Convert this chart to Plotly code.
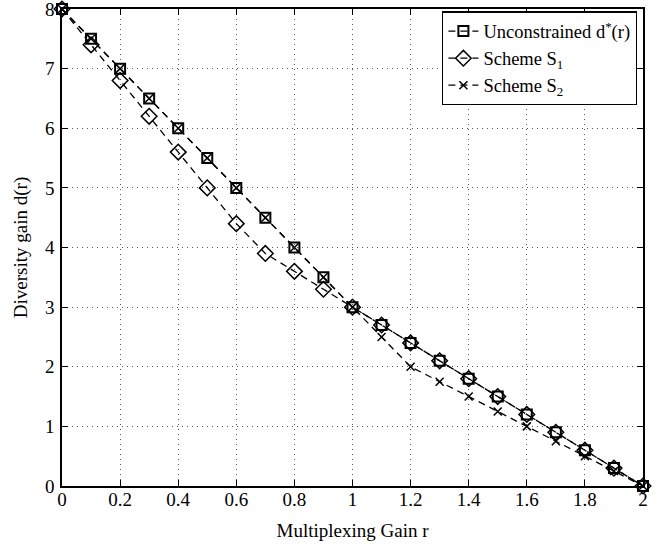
import plotly.graph_objects as go

r = [0, 0.1, 0.2, 0.3, 0.4, 0.5, 0.6, 0.7, 0.8, 0.9, 1.0,
     1.1, 1.2, 1.3, 1.4, 1.5, 1.6, 1.7, 1.8, 1.9, 2.0]
d_star = [8, 7.5, 7, 6.5, 6, 5.5, 5, 4.5, 4, 3.5, 3,
          2.7, 2.4, 2.1, 1.8, 1.5, 1.2, 0.9, 0.6, 0.3, 0]
scheme_s1 = [8, 7.4, 6.8, 6.2, 5.6, 5.0, 4.4, 3.9, 3.6, 3.3, 3,
             2.7, 2.4, 2.1, 1.8, 1.5, 1.2, 0.9, 0.6, 0.3, 0]
scheme_s2 = [8, 7.5, 7, 6.5, 6, 5.5, 5, 4.5, 4, 3.5, 3,
             2.5, 2.0, 1.75, 1.5, 1.25, 1.0, 0.75, 0.5, 0.25, 0]

names = ["Unconstrained d<sup>*</sup>(r)", "Scheme S<sub>1</sub>", "Scheme S<sub>2</sub>"]

fig = go.Figure()
fig.add_trace(go.Scatter(
    x=r, y=d_star, name=names[0], mode="lines+markers",
    line=dict(color="black", width=1.3, dash="7px,5px"),
    marker=dict(symbol="square-open", size=10, color="black", line=dict(width=2)),
    cliponaxis=False))
fig.add_trace(go.Scatter(
    x=r, y=scheme_s1, name=names[1], mode="lines+markers",
    line=dict(color="black", width=1.3, dash="7px,5px"),
    marker=dict(symbol="diamond-open", size=12, color="black", line=dict(width=1.5)),
    cliponaxis=False))
fig.add_trace(go.Scatter(
    x=r, y=scheme_s2, name=names[2], mode="lines+markers",
    line=dict(color="black", width=1.3, dash="7px,5px"),
    marker=dict(symbol="x-thin", size=8, color="black", line=dict(width=1.5, color="black")),
    cliponaxis=False))

font = "Liberation Serif, Times New Roman, serif"
axis_common = dict(
    showline=True, linecolor="black", linewidth=1.5, mirror="ticks",
    ticks="inside", ticklen=6, tickcolor="black", tickwidth=1.2,
    showgrid=True, gridcolor="#555", griddash="1px,4px", gridwidth=1,
    zeroline=False, automargin=False, ticklabeloverflow="allow",
    tickfont=dict(family=font, size=19, color="black"),
)
fig.update_xaxes(range=[0, 2], dtick=0.2, tick0=0, ticklabelstandoff=-5,
                 title=dict(text="Multiplexing Gain r", font=dict(family=font, size=19, color="black"), standoff=15),
                 **axis_common)
fig.update_yaxes(range=[0, 8], dtick=1, tick0=0, ticklabelstandoff=2,
                 title=dict(text="Diversity gain d(r)", font=dict(family=font, size=19, color="black"), standoff=12),
                 **axis_common)

fig.update_layout(
    width=658, height=544,
    margin=dict(l=62, r=15, t=9, b=58),
    paper_bgcolor="white", plot_bgcolor="white",
    font=dict(family=font, size=19, color="black"),
    showlegend=True,
    legend=dict(x=0.99, y=0.995, xanchor="right", yanchor="top",
                bgcolor="white", bordercolor="black", borderwidth=1.2,
                font=dict(family=font, size=18.5, color="black"),
                tracegroupgap=0, itemwidth=30),
)

fig.write_html("out.html", config={"displayModeBar": False},
               post_script="document.body.style.margin='0';document.body.style.overflow='hidden';")
